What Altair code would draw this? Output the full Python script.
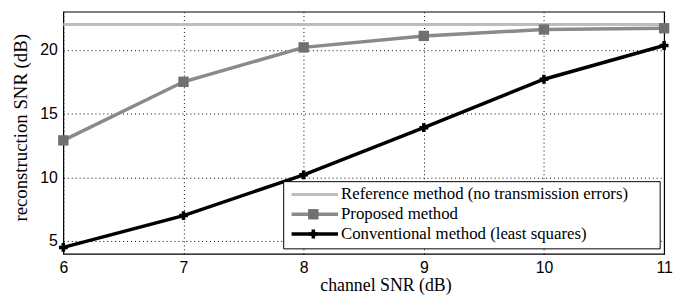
import altair as alt
import pandas as pd

snr = [6, 7, 8, 9, 10, 11]
reference = [22.0, 22.0, 22.0, 22.0, 22.0, 22.0]
proposed = [12.9, 17.5, 20.2, 21.1, 21.6, 21.7]
conventional = [4.5, 7.0, 10.2, 13.9, 17.7, 20.35]

labels = [
    "Reference method (no transmission errors)",
    "Proposed method",
    "Conventional method (least squares)",
]
colors = ["#bdbdbd", "#8a8a8a", "#000000"]

rows = []
for name, vals in zip(labels, [reference, proposed, conventional]):
    for x, y in zip(snr, vals):
        rows.append({"snr": x, "val": y, "series": name})
df = pd.DataFrame(rows)

W, H = 608, 245
xs = alt.Scale(domain=[6, 11], nice=False)
ys = alt.Scale(domain=[4, 23], nice=False, zero=False)

xax = alt.Axis(values=snr, format="d", title="channel SNR (dB)", grid=True,
               gridColor="#000", gridDash=[1, 3], gridWidth=1, ticks=False,
               domain=False, labelFont="Liberation Sans", labelFontSize=16,
               labelColor="#000", labelPadding=6, titleFont="Liberation Serif",
               titleFontSize=18, titleFontWeight="normal", titleColor="#000",
               titleX=326, titleY=32, titleBaseline="middle", labelFlush=False)
yax = alt.Axis(values=[5, 10, 15, 20], title="reconstruction SNR (dB)", grid=True,
               gridColor="#000", gridDash=[1, 3], gridWidth=1, ticks=False,
               domain=False, labelFont="Liberation Sans", labelFontSize=16,
               labelColor="#000", labelPadding=6, titleFont="Liberation Serif",
               titleFontSize=19, titleFontWeight="normal", titleColor="#000",
               titleX=-43, titleY=117, titleBaseline="middle")

base = alt.Chart(df)

ref_line = base.transform_filter(alt.datum.series == labels[0]).mark_line(
    color=colors[0], strokeWidth=3).encode(
    x=alt.X("snr:Q", scale=xs, axis=xax), y=alt.Y("val:Q", scale=ys, axis=yax))

prop_line = base.transform_filter(alt.datum.series == labels[1]).mark_line(
    color=colors[1], strokeWidth=3.5).encode(
    x=alt.X("snr:Q", scale=xs), y=alt.Y("val:Q", scale=ys))
prop_pts = base.transform_filter(alt.datum.series == labels[1]).mark_point(
    shape="square", filled=True, color="#707070", size=110, opacity=1).encode(
    x=alt.X("snr:Q", scale=xs), y=alt.Y("val:Q", scale=ys))

conv_line = base.transform_filter(alt.datum.series == labels[2]).mark_line(
    color=colors[2], strokeWidth=3.5).encode(
    x=alt.X("snr:Q", scale=xs), y=alt.Y("val:Q", scale=ys))
conv_pts = base.transform_filter(alt.datum.series == labels[2]).mark_point(
    shape="cross", filled=True, color="#000", size=80, opacity=1).encode(
    x=alt.X("snr:Q", scale=xs), y=alt.Y("val:Q", scale=ys))

# legend box
lx0, lx1, ly0, ly1 = 223, 604, 172, 240
row_y = [185, 205, 225]

box = alt.Chart(pd.DataFrame({"a": [0]})).mark_rect(
    fill="white", stroke="#000", strokeWidth=1).encode(
    x=alt.value(lx0), x2=alt.value(lx1), y=alt.value(ly0), y2=alt.value(ly1))

leg_layers = [box]
for i, (lab, col) in enumerate(zip(labels, colors)):
    one = alt.Chart(pd.DataFrame({"label": [lab]}))
    leg_layers.append(one.mark_rule(color=col, strokeWidth=3 if i == 0 else 3.5).encode(
        x=alt.value(231), x2=alt.value(278), y=alt.value(row_y[i])))
    if i == 1:
        leg_layers.append(one.mark_point(shape="square", filled=True, color="#707070",
                                         size=110, opacity=1).encode(
            x=alt.value(253), y=alt.value(row_y[i])))
    if i == 2:
        leg_layers.append(one.mark_point(shape="cross", filled=True, color="#000",
                                         size=80, opacity=1).encode(
            x=alt.value(253), y=alt.value(row_y[i])))
    leg_layers.append(one.mark_text(align="left", baseline="middle",
                                    font="Liberation Serif", fontSize=17,
                                    color="#000").encode(
        x=alt.value(281), y=alt.value(row_y[i]), text="label:N"))

chart = alt.layer(ref_line, prop_line, prop_pts, conv_line, conv_pts, *leg_layers).properties(
    width=W, height=H,
    autosize=alt.AutoSizeParams(type="none"),
    padding={"left": 56, "top": 2, "right": 10, "bottom": 44},
    background="white",
).configure_view(stroke="#000", strokeWidth=1.2)

chart.save("out.html", embed_options={"renderer": "svg", "actions": False})
